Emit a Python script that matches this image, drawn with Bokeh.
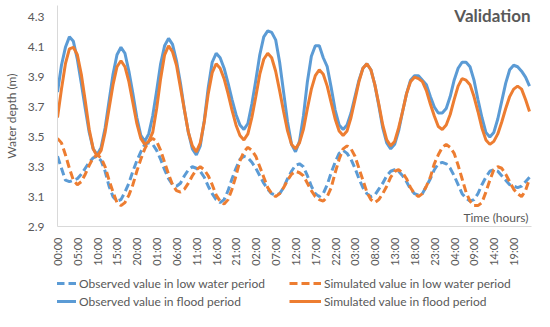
import numpy as np
from bokeh.plotting import figure
from bokeh.layouts import column
from bokeh.models import Range1d, FixedTicker, Legend, LegendItem, Label
from bokeh.embed import file_html
from bokeh.resources import INLINE

hours = list(range(120))

obs_flood = [3.80, 3.98, 4.10, 4.17, 4.14, 4.02, 3.86, 3.69, 3.53, 3.42,
             3.38, 3.43, 3.56, 3.74, 3.92, 4.05, 4.10, 4.06, 3.94, 3.79,
             3.63, 3.51, 3.47, 3.52, 3.64, 3.81, 3.99, 4.11, 4.16, 4.12,
             4.01, 3.86, 3.68, 3.53, 3.42, 3.38, 3.44, 3.61, 3.83, 4.00,
             4.06, 4.03, 3.96, 3.86, 3.75, 3.65, 3.58, 3.55, 3.59, 3.72,
             3.88, 4.05, 4.17, 4.21, 4.20, 4.15, 4.00, 3.80, 3.60, 3.45,
             3.40, 3.47, 3.64, 3.87, 4.04, 4.11, 4.11, 4.03, 3.97, 3.83,
             3.68, 3.58, 3.55, 3.58, 3.66, 3.77, 3.88, 3.96, 3.99, 3.95,
             3.85, 3.71, 3.56, 3.46, 3.42, 3.45, 3.54, 3.67, 3.79, 3.88,
             3.91, 3.91, 3.88, 3.85, 3.77, 3.70, 3.66, 3.66, 3.69, 3.77,
             3.88, 3.96, 4.00, 4.00, 3.97, 3.88, 3.75, 3.63, 3.53, 3.50,
             3.53, 3.62, 3.74, 3.86, 3.95, 3.98, 3.97, 3.94, 3.90, 3.84]

sim_flood = [3.63, 3.82, 3.99, 4.09, 4.10, 4.05, 3.92, 3.74, 3.55, 3.42,
             3.37, 3.41, 3.53, 3.69, 3.85, 3.97, 4.01, 3.97, 3.87, 3.73,
             3.59, 3.49, 3.45, 3.47, 3.53, 3.69, 3.89, 4.05, 4.11, 4.07,
             3.98, 3.83, 3.68, 3.53, 3.44, 3.40, 3.46, 3.60, 3.79, 3.93,
             3.99, 3.96, 3.89, 3.79, 3.68, 3.58, 3.51, 3.48, 3.52, 3.63,
             3.77, 3.92, 4.02, 4.06, 4.03, 3.94, 3.81, 3.67, 3.54, 3.45,
             3.42, 3.46, 3.55, 3.69, 3.82, 3.91, 3.95, 3.92, 3.84, 3.73,
             3.62, 3.54, 3.51, 3.54, 3.63, 3.75, 3.87, 3.96, 3.99, 3.95,
             3.85, 3.72, 3.58, 3.48, 3.44, 3.47, 3.56, 3.67, 3.79, 3.87,
             3.90, 3.89, 3.87, 3.81, 3.72, 3.64, 3.57, 3.55, 3.58, 3.65,
             3.75, 3.84, 3.89, 3.88, 3.85, 3.77, 3.67, 3.56, 3.48, 3.45,
             3.47, 3.52, 3.60, 3.69, 3.77, 3.82, 3.84, 3.82, 3.75, 3.67]

obs_low = [3.37, 3.29, 3.21, 3.20, 3.21, 3.22, 3.25, 3.29, 3.33, 3.36,
           3.37, 3.34, 3.27, 3.17, 3.10, 3.07, 3.08, 3.13, 3.19, 3.27,
           3.34, 3.40, 3.45, 3.46, 3.45, 3.41, 3.35, 3.28, 3.22, 3.18,
           3.17, 3.19, 3.24, 3.28, 3.30, 3.29, 3.27, 3.23, 3.17, 3.12,
           3.08, 3.06, 3.08, 3.14, 3.22, 3.29, 3.35, 3.37, 3.36, 3.33,
           3.29, 3.24, 3.19, 3.15, 3.12, 3.11, 3.12, 3.16, 3.22, 3.27,
           3.31, 3.32, 3.30, 3.24, 3.17, 3.12, 3.10, 3.12, 3.18, 3.26,
           3.33, 3.39, 3.41, 3.39, 3.35, 3.29, 3.22, 3.16, 3.12, 3.10,
           3.11, 3.15, 3.19, 3.24, 3.27, 3.28, 3.27, 3.24, 3.20, 3.15,
           3.12, 3.11, 3.12, 3.17, 3.22, 3.28, 3.32, 3.33, 3.32, 3.29,
           3.24, 3.18, 3.12, 3.09, 3.07, 3.08, 3.12, 3.18, 3.23, 3.27,
           3.28, 3.27, 3.24, 3.21, 3.18, 3.17, 3.16, 3.17, 3.20, 3.23]

sim_low = [3.49, 3.46, 3.38, 3.29, 3.21, 3.18, 3.20, 3.25, 3.31, 3.36,
           3.38, 3.36, 3.30, 3.21, 3.13, 3.06, 3.04, 3.06, 3.11, 3.18,
           3.27, 3.35, 3.42, 3.47, 3.49, 3.47, 3.41, 3.33, 3.25, 3.18,
           3.14, 3.13, 3.15, 3.19, 3.24, 3.28, 3.30, 3.28, 3.24, 3.18,
           3.11, 3.07, 3.05, 3.08, 3.15, 3.24, 3.34, 3.40, 3.43, 3.41,
           3.37, 3.30, 3.23, 3.16, 3.12, 3.10, 3.12, 3.16, 3.21, 3.25,
           3.27, 3.26, 3.24, 3.19, 3.14, 3.10, 3.08, 3.07, 3.10, 3.16,
           3.26, 3.35, 3.42, 3.44, 3.42, 3.37, 3.29, 3.21, 3.13, 3.08,
           3.06, 3.08, 3.12, 3.17, 3.23, 3.27, 3.28, 3.26, 3.22, 3.16,
           3.12, 3.10, 3.12, 3.17, 3.23, 3.32, 3.38, 3.43, 3.45, 3.43,
           3.39, 3.31, 3.22, 3.13, 3.07, 3.04, 3.04, 3.06, 3.13, 3.21,
           3.28, 3.30, 3.29, 3.25, 3.20, 3.15, 3.12, 3.10, 3.14, 3.22]

tick_hours = list(range(0, 120, 5))
tick_labels = ["00:00", "05:00", "10:00", "15:00", "20:00", "01:00", "06:00", "11:00",
               "16:00", "21:00", "02:00", "07:00", "12:00", "17:00", "22:00", "03:00",
               "08:00", "13:00", "18:00", "23:00", "04:00", "09:00", "14:00", "19:00"]
y_ticks = [2.9, 3.1, 3.3, 3.5, 3.7, 3.9, 4.1, 4.3]
series_names = ["Observed value in low water period", "Simulated value in low water period",
                "Observed value in flood period", "Simulated value in flood period"]

BLUE = "#5B9BD5"
ORANGE = "#ED7D31"
GRAY = "#595959"
FONT = "Lato"
styles = [dict(color=BLUE, line_width=3, line_dash="8 4"),
          dict(color=ORANGE, line_width=3, line_dash="8 4"),
          dict(color=BLUE, line_width=3),
          dict(color=ORANGE, line_width=3)]
series = [obs_low, sim_low, obs_flood, sim_flood]

p = figure(width=534, height=268, output_backend="svg", toolbar_location=None,
           x_range=Range1d(0, 119.5), y_range=Range1d(2.9, 4.38),
           min_border_left=54, min_border_right=3, min_border_top=5, min_border_bottom=36)
p.outline_line_color = None
p.xgrid.visible = False
p.ygrid.visible = False

for ax in (p.xaxis[0], p.yaxis[0]):
    ax.axis_line_color = "#D9D9D9"
    ax.major_tick_line_color = None
    ax.minor_tick_line_color = None
    ax.major_label_text_color = GRAY
    ax.major_label_text_font = FONT

p.xaxis.ticker = FixedTicker(ticks=tick_hours)
p.xaxis.major_label_overrides = {h: l for h, l in zip(tick_hours, tick_labels)}
p.xaxis.major_label_orientation = np.pi / 2
p.xaxis.major_label_text_font_size = "11px"
p.xaxis.major_label_standoff = 5

p.yaxis.ticker = FixedTicker(ticks=y_ticks)
p.yaxis.major_label_text_font_size = "12px"
p.yaxis.major_label_standoff = 7
p.yaxis.axis_label = "Water depth (m)"
p.yaxis.axis_label_text_font = FONT
p.yaxis.axis_label_text_font_size = "12px"
p.yaxis.axis_label_text_font_style = "normal"
p.yaxis.axis_label_text_color = GRAY
p.yaxis.axis_label_standoff = 6

for ys, st in zip(series, styles):
    p.line(hours, ys, **st)

p.add_layout(Label(x=119.5, y=4.3, x_offset=-1, y_offset=2, text="Validation",
                   text_align="right", text_baseline="middle", text_font=FONT,
                   text_font_size="17px", text_font_style="bold", text_color=GRAY))
p.add_layout(Label(x=119.5, y=2.9, x_offset=-3, y_offset=2, text="Time (hours)",
                   text_align="right", text_baseline="bottom", text_font=FONT,
                   text_font_size="12px", text_color=GRAY))

# legend strip below the chart (its key lines hold the series but lie outside its view)
lf = figure(width=534, height=43, output_backend="svg", toolbar_location=None,
            x_range=Range1d(0, 1), y_range=Range1d(0, 1),
            x_axis_location=None, y_axis_location=None,
            min_border_left=0, min_border_right=0, min_border_top=0, min_border_bottom=0)
lf.outline_line_color = None
lf.xgrid.visible = False
lf.ygrid.visible = False
keys = [lf.line(hours, ys, **st) for ys, st in zip(series, styles)]


def make_legend(idx, spacing, loc):
    lg = Legend(items=[LegendItem(label=series_names[i], renderers=[keys[i]]) for i in idx],
                orientation="horizontal", location=loc)
    lg.border_line_color = None
    lg.background_fill_alpha = 0
    lg.label_text_font = FONT
    lg.label_text_font_size = "12px"
    lg.label_text_color = GRAY
    lg.glyph_width = 32
    lg.glyph_height = 16
    lg.label_height = 16
    lg.label_standoff = 3
    lg.padding = 1
    lg.spacing = spacing
    lg.margin = 0
    return lg


lf.add_layout(make_legend([0, 1], 24, (-13, 20)))
lf.add_layout(make_legend([2, 3], 48, (-13, 2)))

layout = column(p, lf, spacing=0)
open("out.html", "w").write(file_html(layout, INLINE))
